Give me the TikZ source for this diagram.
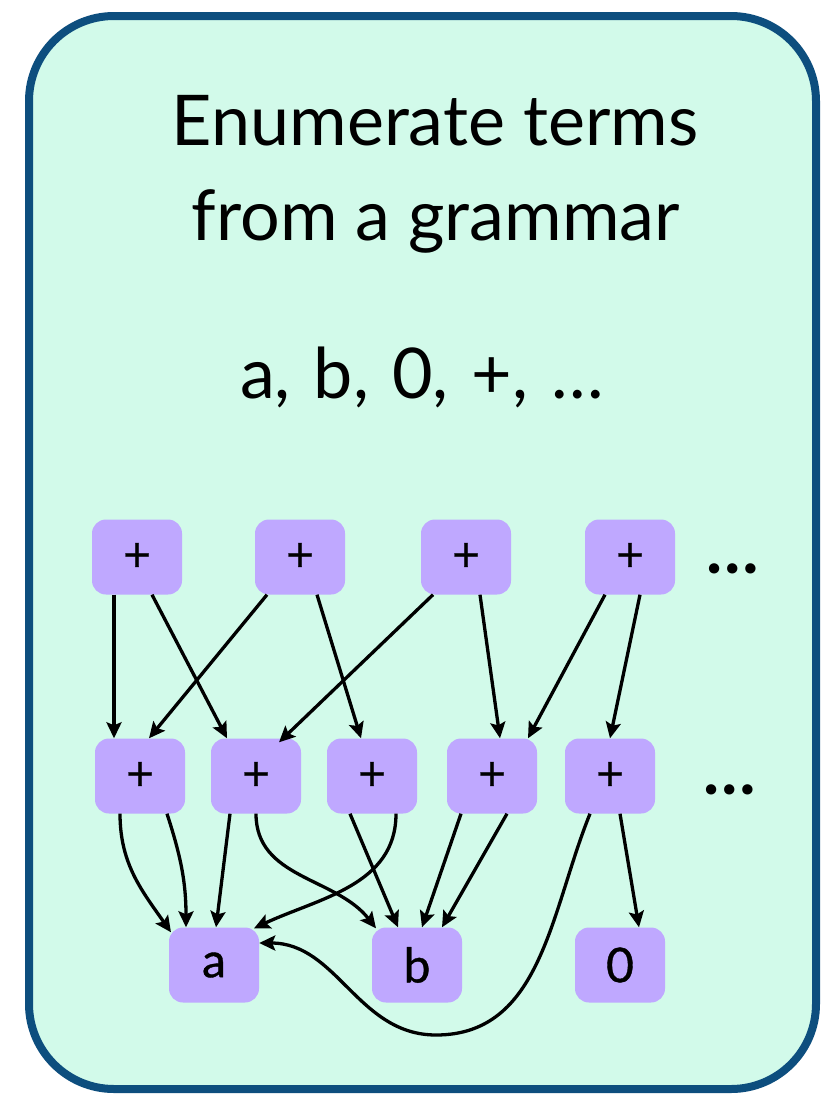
\documentclass[tikz,border=0pt]{standalone}
\usepackage{fontspec}
\setmainfont{Lato}
\newfontfamily\termfont{Lato}[FakeBold=0.8]
\usetikzlibrary{arrows.meta}

\definecolor{mint}{HTML}{D2FAEA}
\definecolor{frameblue}{HTML}{0D4E7E}
\definecolor{termfill}{HTML}{BFA8FF}

\begin{document}
\begin{tikzpicture}[x=1pt, y=1pt,
    every node/.style={font=\termfont\fontsize{48}{48}\selectfont},
    tm/.style={rectangle, rounded corners=14pt, fill=termfill,
               minimum width=90pt, minimum height=75pt, inner sep=0pt},
    ttl/.style={anchor=base, font=\fontsize{70}{70}\selectfont},
    dts/.style={font=\fontsize{68}{68}\selectfont\bfseries},
    edg/.style={draw=black, line width=3.3pt,
                -{Stealth[length=16pt, width=15pt, inset=3pt]}},
  ]
  \useasboundingbox (0,0) rectangle (820,-1098);
  \draw[frameblue, fill=mint, line width=8pt, rounded corners=85pt]
    (29,-16) rectangle (816,-1089);

  % heading
  \node[ttl] (l1) at (435,-145) {Enumerate terms};
  \node[ttl] (l2) at (436,-240) {from a grammar};
  \node[ttl] (l3) at (422,-398) {\spaceskip=0.33em a, b, 0, +, …};

  % top row
  \node[tm] (t1) at (137,-557) {+};
  \node[tm] (t2) at (300,-557) {+};
  \node[tm] (t3) at (466,-557) {+};
  \node[tm] (t4) at (630,-557) {+};
  \node[dts] (d1) at (733,-569) {…};

  % middle row
  \node[tm] (m1) at (140,-776) {+};
  \node[tm] (m2) at (256,-776) {+};
  \node[tm] (m3) at (372,-776) {+};
  \node[tm] (m4) at (492,-776) {+};
  \node[tm] (m5) at (610,-776) {+};
  \node[dts] (d2) at (730,-790) {…};

  % leaves
  \node[tm] (a) at (214,-965) {a};
  \node[tm] (b) at (417,-965) {b};
  \node[tm] (z) at (620,-965) {0};
  \coordinate (dip) at (436,-1035);

  % top -> middle
  \draw[edg] ([xshift=-23pt]t1.south) -- ([xshift=-26pt]m1.north);
  \draw[edg] ([xshift=15pt]t1.south) -- ([xshift=-29pt]m2.north);
  \draw[edg] ([xshift=-33pt]t2.south) -- ([xshift=9pt]m1.north);
  \draw[edg] ([xshift=17pt]t2.south) -- ([xshift=-11pt]m3.north);
  \draw[edg] ([xshift=-33pt]t3.south) -- ([xshift=23pt,yshift=-4pt]m2.north);
  \draw[edg] ([xshift=14pt]t3.south) -- ([xshift=8pt]m4.north);
  \draw[edg] ([xshift=-25pt]t4.south) -- ([xshift=36pt]m4.north);
  \draw[edg] ([xshift=10pt]t4.south) -- (m5.north);

  % middle -> leaves
  \draw[edg] ([xshift=-20pt]m1.south) to[out=-90, in=125] ([xshift=-43pt,yshift=-5pt]a.north);
  \draw[edg] ([xshift=27pt]m1.south) to[out=-72, in=90] ([xshift=-28pt]a.north);
  \draw[edg] ([xshift=-26pt]m2.south) -- ([xshift=2pt]a.north);
  \draw[edg] (m2.south) to[out=-90, in=128] ([xshift=-41pt,yshift=-1pt]b.north);
  \draw[edg] ([xshift=-22pt]m3.south) -- ([xshift=-19pt]b.north);
  \draw[edg] ([xshift=24pt]m3.south) to[out=-90, in=25] ([xshift=40pt,yshift=-1pt]a.north);
  \draw[edg] ([xshift=-31pt]m4.south) -- ([xshift=5pt]b.north);
  \draw[edg] ([xshift=15pt]m4.south) -- ([xshift=25pt]b.north);
  \draw[edg] ([xshift=-20pt]m5.south) to[out=-112, in=0] (dip)
    to[out=180, in=0] ([yshift=22pt]a.east);
  \draw[edg] ([xshift=10pt]m5.south) -- ([xshift=19pt]z.north);
\end{tikzpicture}
\end{document}
